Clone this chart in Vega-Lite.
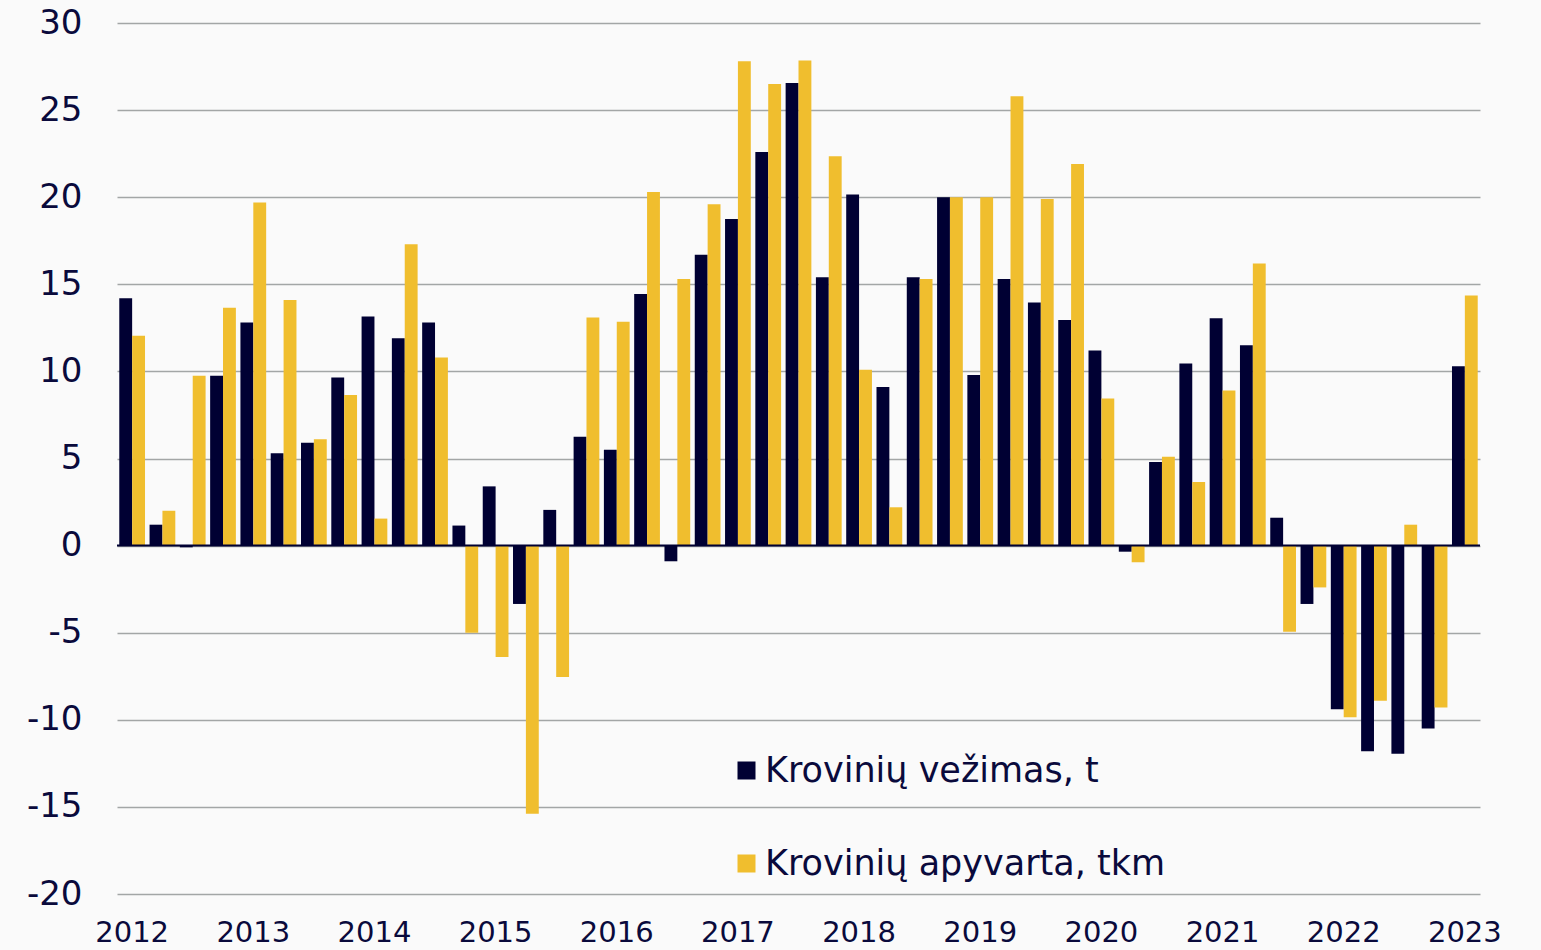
{
  "$schema": "https://vega.github.io/schema/vega-lite/v6.json",
  "width": 1363,
  "height": 871,
  "autosize": {"type": "none"},
  "padding": {"left": 117, "top": 23, "right": 61, "bottom": 56},
  "background": "#fafafa",
  "config": {"view": {"stroke": null}, "font": "DejaVu Sans"},
  "data": {
    "values": [
      {"q": "2012Q1", "s": "Krovinių vežimas, t", "v": 14.2}, {"q": "2012Q1", "s": "Krovinių apyvarta, tkm", "v": 12.05},
      {"q": "2012Q2", "s": "Krovinių vežimas, t", "v": 1.2}, {"q": "2012Q2", "s": "Krovinių apyvarta, tkm", "v": 2.0},
      {"q": "2012Q3", "s": "Krovinių vežimas, t", "v": -0.1}, {"q": "2012Q3", "s": "Krovinių apyvarta, tkm", "v": 9.75},
      {"q": "2012Q4", "s": "Krovinių vežimas, t", "v": 9.75}, {"q": "2012Q4", "s": "Krovinių apyvarta, tkm", "v": 13.65},
      {"q": "2013Q1", "s": "Krovinių vežimas, t", "v": 12.8}, {"q": "2013Q1", "s": "Krovinių apyvarta, tkm", "v": 19.7},
      {"q": "2013Q2", "s": "Krovinių vežimas, t", "v": 5.3}, {"q": "2013Q2", "s": "Krovinių apyvarta, tkm", "v": 14.1},
      {"q": "2013Q3", "s": "Krovinių vežimas, t", "v": 5.9}, {"q": "2013Q3", "s": "Krovinių apyvarta, tkm", "v": 6.1},
      {"q": "2013Q4", "s": "Krovinių vežimas, t", "v": 9.65}, {"q": "2013Q4", "s": "Krovinių apyvarta, tkm", "v": 8.65},
      {"q": "2014Q1", "s": "Krovinių vežimas, t", "v": 13.15}, {"q": "2014Q1", "s": "Krovinių apyvarta, tkm", "v": 1.55},
      {"q": "2014Q2", "s": "Krovinių vežimas, t", "v": 11.9}, {"q": "2014Q2", "s": "Krovinių apyvarta, tkm", "v": 17.3},
      {"q": "2014Q3", "s": "Krovinių vežimas, t", "v": 12.8}, {"q": "2014Q3", "s": "Krovinių apyvarta, tkm", "v": 10.8},
      {"q": "2014Q4", "s": "Krovinių vežimas, t", "v": 1.15}, {"q": "2014Q4", "s": "Krovinių apyvarta, tkm", "v": -5.0},
      {"q": "2015Q1", "s": "Krovinių vežimas, t", "v": 3.4}, {"q": "2015Q1", "s": "Krovinių apyvarta, tkm", "v": -6.4},
      {"q": "2015Q2", "s": "Krovinių vežimas, t", "v": -3.35}, {"q": "2015Q2", "s": "Krovinių apyvarta, tkm", "v": -15.4},
      {"q": "2015Q3", "s": "Krovinių vežimas, t", "v": 2.05}, {"q": "2015Q3", "s": "Krovinių apyvarta, tkm", "v": -7.55},
      {"q": "2015Q4", "s": "Krovinių vežimas, t", "v": 6.25}, {"q": "2015Q4", "s": "Krovinių apyvarta, tkm", "v": 13.1},
      {"q": "2016Q1", "s": "Krovinių vežimas, t", "v": 5.5}, {"q": "2016Q1", "s": "Krovinių apyvarta, tkm", "v": 12.85},
      {"q": "2016Q2", "s": "Krovinių vežimas, t", "v": 14.45}, {"q": "2016Q2", "s": "Krovinių apyvarta, tkm", "v": 20.3},
      {"q": "2016Q3", "s": "Krovinių vežimas, t", "v": -0.9}, {"q": "2016Q3", "s": "Krovinių apyvarta, tkm", "v": 15.3},
      {"q": "2016Q4", "s": "Krovinių vežimas, t", "v": 16.7}, {"q": "2016Q4", "s": "Krovinių apyvarta, tkm", "v": 19.6},
      {"q": "2017Q1", "s": "Krovinių vežimas, t", "v": 18.75}, {"q": "2017Q1", "s": "Krovinių apyvarta, tkm", "v": 27.8},
      {"q": "2017Q2", "s": "Krovinių vežimas, t", "v": 22.6}, {"q": "2017Q2", "s": "Krovinių apyvarta, tkm", "v": 26.5},
      {"q": "2017Q3", "s": "Krovinių vežimas, t", "v": 26.55}, {"q": "2017Q3", "s": "Krovinių apyvarta, tkm", "v": 27.85},
      {"q": "2017Q4", "s": "Krovinių vežimas, t", "v": 15.4}, {"q": "2017Q4", "s": "Krovinių apyvarta, tkm", "v": 22.35},
      {"q": "2018Q1", "s": "Krovinių vežimas, t", "v": 20.15}, {"q": "2018Q1", "s": "Krovinių apyvarta, tkm", "v": 10.1},
      {"q": "2018Q2", "s": "Krovinių vežimas, t", "v": 9.1}, {"q": "2018Q2", "s": "Krovinių apyvarta, tkm", "v": 2.2},
      {"q": "2018Q3", "s": "Krovinių vežimas, t", "v": 15.4}, {"q": "2018Q3", "s": "Krovinių apyvarta, tkm", "v": 15.3},
      {"q": "2018Q4", "s": "Krovinių vežimas, t", "v": 20.0}, {"q": "2018Q4", "s": "Krovinių apyvarta, tkm", "v": 20.0},
      {"q": "2019Q1", "s": "Krovinių vežimas, t", "v": 9.8}, {"q": "2019Q1", "s": "Krovinių apyvarta, tkm", "v": 20.0},
      {"q": "2019Q2", "s": "Krovinių vežimas, t", "v": 15.3}, {"q": "2019Q2", "s": "Krovinių apyvarta, tkm", "v": 25.8},
      {"q": "2019Q3", "s": "Krovinių vežimas, t", "v": 13.95}, {"q": "2019Q3", "s": "Krovinių apyvarta, tkm", "v": 19.9},
      {"q": "2019Q4", "s": "Krovinių vežimas, t", "v": 12.95}, {"q": "2019Q4", "s": "Krovinių apyvarta, tkm", "v": 21.9},
      {"q": "2020Q1", "s": "Krovinių vežimas, t", "v": 11.2}, {"q": "2020Q1", "s": "Krovinių apyvarta, tkm", "v": 8.45},
      {"q": "2020Q2", "s": "Krovinių vežimas, t", "v": -0.35}, {"q": "2020Q2", "s": "Krovinių apyvarta, tkm", "v": -0.95},
      {"q": "2020Q3", "s": "Krovinių vežimas, t", "v": 4.8}, {"q": "2020Q3", "s": "Krovinių apyvarta, tkm", "v": 5.1},
      {"q": "2020Q4", "s": "Krovinių vežimas, t", "v": 10.45}, {"q": "2020Q4", "s": "Krovinių apyvarta, tkm", "v": 3.65},
      {"q": "2021Q1", "s": "Krovinių vežimas, t", "v": 13.05}, {"q": "2021Q1", "s": "Krovinių apyvarta, tkm", "v": 8.9},
      {"q": "2021Q2", "s": "Krovinių vežimas, t", "v": 11.5}, {"q": "2021Q2", "s": "Krovinių apyvarta, tkm", "v": 16.2},
      {"q": "2021Q3", "s": "Krovinių vežimas, t", "v": 1.6}, {"q": "2021Q3", "s": "Krovinių apyvarta, tkm", "v": -4.95},
      {"q": "2021Q4", "s": "Krovinių vežimas, t", "v": -3.35}, {"q": "2021Q4", "s": "Krovinių apyvarta, tkm", "v": -2.4},
      {"q": "2022Q1", "s": "Krovinių vežimas, t", "v": -9.4}, {"q": "2022Q1", "s": "Krovinių apyvarta, tkm", "v": -9.85},
      {"q": "2022Q2", "s": "Krovinių vežimas, t", "v": -11.8}, {"q": "2022Q2", "s": "Krovinių apyvarta, tkm", "v": -8.9},
      {"q": "2022Q3", "s": "Krovinių vežimas, t", "v": -11.95}, {"q": "2022Q3", "s": "Krovinių apyvarta, tkm", "v": 1.2},
      {"q": "2022Q4", "s": "Krovinių vežimas, t", "v": -10.5}, {"q": "2022Q4", "s": "Krovinių apyvarta, tkm", "v": -9.3},
      {"q": "2023Q1", "s": "Krovinių vežimas, t", "v": 10.3}, {"q": "2023Q1", "s": "Krovinių apyvarta, tkm", "v": 14.35}
    ]
  },
  "layer": [
    {
      "mark": {"type": "bar"},
      "encoding": {
        "x": {
          "field": "q",
          "type": "nominal",
          "sort": null,
          "scale": {"paddingInner": 0.15, "paddingOuter": 0.075},
          "axis": {
            "title": null,
            "labelExpr": "indexof(datum.value, 'Q1') >= 0 ? slice(datum.value, 0, 4) : ''",
            "labelAngle": 0,
            "labelOverlap": false,
            "ticks": false,
            "domain": false,
            "grid": false,
            "labelFontSize": 29,
            "labelColor": "#0a0a3c",
            "labelPadding": 24,
            "labelFont": "DejaVu Sans"
          }
        },
        "xOffset": {
          "field": "s",
          "type": "nominal",
          "scale": {"domain": ["Krovinių vežimas, t", "Krovinių apyvarta, tkm"], "paddingInner": 0, "paddingOuter": 0}
        },
        "y": {
          "field": "v",
          "type": "quantitative",
          "scale": {"domain": [-20, 30], "nice": false},
          "axis": {
            "title": null,
            "values": [-20, -15, -10, -5, 0, 5, 10, 15, 20, 25, 30],
            "labelExpr": "format(datum.value, 'd') == '0' ? '0' : (datum.value < 0 ? '-' + format(-datum.value, 'd') : format(datum.value, 'd'))",
            "grid": true,
            "gridColor": "#a3a6a6",
            "gridWidth": 1.5,
            "ticks": false,
            "domain": false,
            "labelFontSize": 34,
            "labelColor": "#0a0a3c",
            "labelPadding": 35,
            "labelFont": "DejaVu Sans"
          }
        },
        "color": {
          "field": "s",
          "type": "nominal",
          "scale": {"domain": ["Krovinių vežimas, t", "Krovinių apyvarta, tkm"], "range": ["#000033", "#F0BE2E"]},
          "legend": {
            "title": null,
            "orient": "none",
            "legendX": 612,
            "legendY": 730,
            "direction": "vertical",
            "padding": 0,
            "symbolType": "square",
            "symbolSize": 324,
            "symbolStrokeWidth": 0,
            "labelFontSize": 35,
            "labelColor": "#0a0a3c",
            "labelFont": "DejaVu Sans",
            "labelOffset": 1,
            "rowPadding": 57,
            "labelLimit": 600
          }
        }
      }
    },
    {
      "data": {"values": [{}]},
      "mark": {"type": "rule", "color": "#000033", "strokeWidth": 2},
      "encoding": {"y": {"datum": 0}}
    }
  ]
}
